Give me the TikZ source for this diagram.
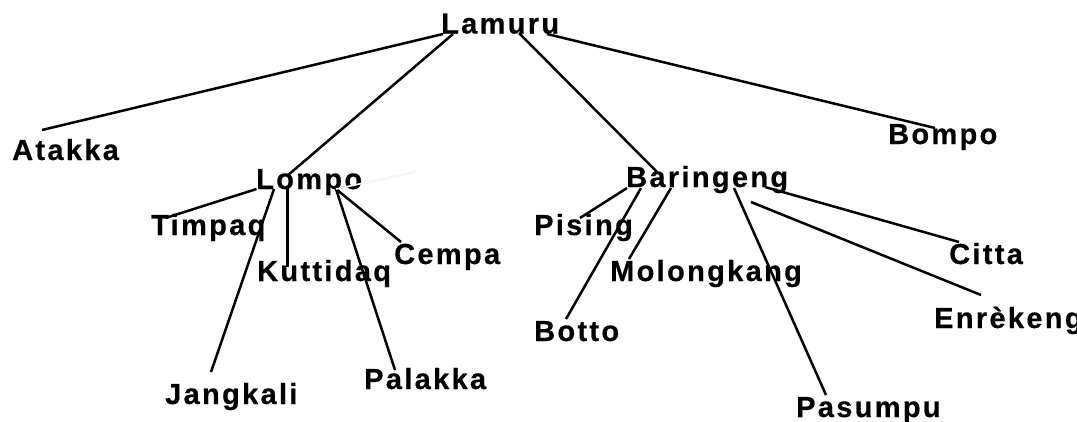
\documentclass[tikz,border=0pt]{standalone}
\usepackage{fontspec}
\setmainfont{Liberation Sans}
\newfontfamily\placefont{Liberation Sans}[LetterSpace=8, FakeBold=0.5]
\usetikzlibrary{calc}

\begin{document}
\begin{tikzpicture}[
    x=1pt, y=-1pt,
    place/.style={anchor=base west, inner sep=0pt, font={\placefont\fontsize{29}{31}\bfseries}},
    link/.style={line width=2.5pt},
    faint/.style={draw=gray!25, double=white, double distance=1pt, line width=0.3pt}
]
    \useasboundingbox (0,0) rectangle (1077,421);

    % top level
    \node[place] (lamuru) at (441,33.5) {Lamuru};
    \node[place] (atakka) at (12,160) {Atakka};
    \node[place] (bompo) at (888,144) {Bompo};
    \node[place] (lompo) at (256,189) {Lompo};
    \node[place] (baringeng) at (626,187) {Baringeng};

    % under Lompo
    \node[place] (timpaq) at (151,235) {Timpaq};
    \node[place] (kuttidaq) at (257,281) {Kuttidaq};
    \node[place] (cempa) at (394,264) {Cempa};
    \node[place] (jangkali) at (165,404) {Jangkali};
    \node[place] (palakka) at (364,389) {Palakka};

    % under Baringeng
    \node[place] (pising) at (534,235) {Pising};
    \node[place] (molongkang) at (610,281) {Molongkang};
    \node[place] (botto) at (534,341) {Botto};
    \node[place] (citta) at (949,264) {Citta};
    \node[place] (enrekeng) at (934,328) {Enrèkeng};
    \node[place] (pasumpu) at (796,417) {Pasumpu};

    \draw[link] ($(lamuru.base west)+(2,0.5)$) -- ($(atakka.base west)+(30,-30)$);
    \draw[link] ($(lamuru.base west)+(12,0.5)$) -- ($(lompo.base west)+(31,-13)$);
    \draw[link] ($(lamuru.base west)+(78,-0.5)$) -- ($(baringeng.base west)+(31,-15)$);
    \draw[link] ($(lamuru.base west)+(106,0.5)$) -- ($(bompo.base west)+(47,-16)$);

    \draw[link] ($(lompo.base west)+(0.5,0)$) -- ($(timpaq.base west)+(14.5,-17)$);
    \draw[link] ($(lompo.base west)+(18,0)$) -- ($(jangkali.base west)+(46,-32)$);
    \draw[link] ($(lompo.base west)+(31.5,-1)$) -- ($(kuttidaq.base west)+(30.5,-14)$);
    \draw[link] ($(lompo.base west)+(80,0)$) -- ($(cempa.base west)+(7,-22)$);
    \draw[link] ($(lompo.base west)+(80,0)$) -- ($(palakka.base west)+(31,-19)$);
    \coordinate (stray) at (415,172);
    \draw[faint] ($(lompo.base west)+(80,0)$) -- (stray);

    \draw[link] ($(baringeng.base west)+(1,1)$) -- ($(pising.base west)+(46,-17)$);
    \draw[link] ($(baringeng.base west)+(15,1)$) -- ($(botto.base west)+(32,-22)$);
    \draw[link] ($(baringeng.base west)+(45,1)$) -- ($(molongkang.base west)+(19,-22)$);
    \draw[link] ($(baringeng.base west)+(108,1)$) -- ($(pasumpu.base west)+(30,-22)$);
    \draw[link] ($(baringeng.base west)+(139,0)$) -- ($(citta.base west)+(10,-22)$);
    \draw[link] ($(baringeng.base west)+(125,15)$) -- ($(enrekeng.base west)+(47,-33)$);
\end{tikzpicture}
\end{document}
